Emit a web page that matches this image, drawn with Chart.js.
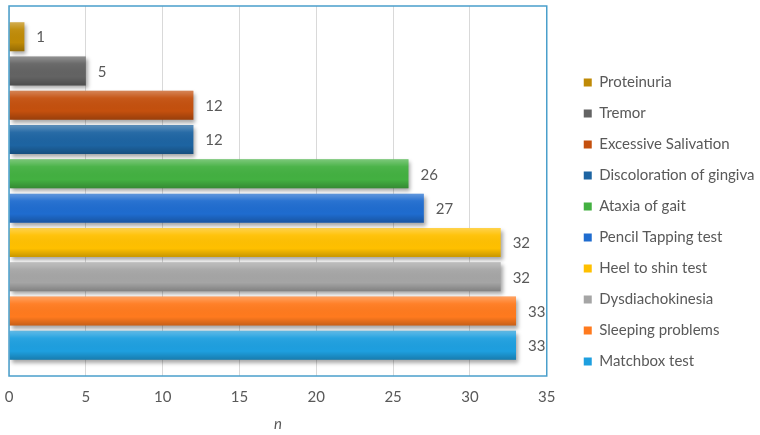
<!DOCTYPE html>
<html>
<head>
<meta charset="utf-8">
<script src="https://cdn.jsdelivr.net/npm/chart.js@4.4.1/dist/chart.umd.min.js"></script>
<style>
  html, body { margin: 0; padding: 0; background: #fff; }
  #wrap { width: 760px; height: 435px; }
</style>
</head>
<body>
<div id="wrap"><canvas id="symptomChart"></canvas></div>
<script>
const symptoms = [
  "Proteinuria", "Tremor", "Excessive Salivation", "Discoloration of gingiva",
  "Ataxia of gait", "Pencil Tapping test", "Heel to shin test",
  "Dysdiachokinesia", "Sleeping problems", "Matchbox test"
];
const counts = [1, 5, 12, 12, 26, 27, 32, 32, 33, 33];
const barColors = [
  "#BF8A06", "#636363", "#C4500E", "#1D64A2", "#43B041",
  "#1F6CCF", "#FFC000", "#A5A5A5", "#FF7A1E", "#1E9FDF"
];
const xMin = 0;
const xMax = 35;
const xStep = 5;

const textColor = "#595959";
const baseFont = "Lato, 'Open Sans', sans-serif";

// one category, one dataset per symptom (gives the Excel-like rows + legend)
const datasets = symptoms.map((name, i) => ({
  label: name,
  data: [counts[i]],
  backgroundColor: barColors[i],
  borderWidth: 0,
  categoryPercentage: 0.927,
  barPercentage: 0.845
}));

// shadow under the bars
const barShadow = {
  id: "barShadow",
  beforeDatasetsDraw(chart) {
    const ctx = chart.ctx;
    ctx.save();
    ctx.shadowColor = "rgba(0,0,0,0.35)";
    ctx.shadowBlur = 4;
    ctx.shadowOffsetX = 2;
    ctx.shadowOffsetY = 3;
  },
  afterDatasetsDraw(chart) {
    chart.ctx.restore();
  }
};

// light top / dark bottom sheen over each bar, plus value labels
const barSheen = {
  id: "barSheen",
  afterDatasetsDraw(chart) {
    const ctx = chart.ctx;
    ctx.save();
    chart.data.datasets.forEach((ds, i) => {
      const meta = chart.getDatasetMeta(i);
      meta.data.forEach((bar, j) => {
        const { x, y, base, height } = bar.getProps(["x", "y", "base", "height"], true);
        const top = y - height / 2;
        const g = ctx.createLinearGradient(0, top, 0, top + height);
        g.addColorStop(0, "rgba(255,255,255,0.30)");
        g.addColorStop(0.25, "rgba(255,255,255,0.05)");
        g.addColorStop(0.7, "rgba(0,0,0,0)");
        g.addColorStop(1, "rgba(0,0,0,0.22)");
        ctx.fillStyle = g;
        ctx.fillRect(base, top, x - base, height);

        ctx.fillStyle = textColor;
        ctx.font = "15px " + baseFont;
        ctx.textBaseline = "middle";
        ctx.textAlign = "left";
        ctx.fillText(String(ds.data[j]), x + 12, y + 1);
      });
    });
    ctx.restore();
  }
};

// blue plot-area border
const plotBorder = {
  id: "plotBorder",
  afterDraw(chart) {
    const { left, top, right, bottom } = chart.chartArea;
    const ctx = chart.ctx;
    ctx.save();
    ctx.strokeStyle = "#4A9FCB";
    ctx.lineWidth = 1.5;
    ctx.strokeRect(left, top, right - left, bottom - top);
    ctx.restore();
  }
};

const ctx = document.getElementById("symptomChart").getContext("2d");
new Chart(ctx, {
  type: "bar",
  data: { labels: [""], datasets },
  options: {
    indexAxis: "y",
    responsive: true,
    maintainAspectRatio: false,
    animation: false,
    layout: { padding: { left: 9, top: 6, right: 6, bottom: 2 } },
    scales: {
      x: {
        min: xMin,
        max: xMax,
        ticks: {
          stepSize: xStep,
          maxRotation: 0,
          autoSkip: false,
          color: textColor,
          font: { size: 15, family: baseFont },
          padding: 12
        },
        grid: { color: "#D9D9D9", drawTicks: false },
        border: { display: false },
        title: {
          display: true,
          text: "n",
          color: textColor,
          font: { size: 15, style: "italic", family: baseFont },
          padding: { top: -3, bottom: 0 }
        },
        afterFit: scale => {
          scale.paddingLeft = 0;
          scale.paddingRight = 0;
        }
      },
      y: {
        position: "right",
        ticks: { display: false },
        grid: { display: false },
        border: { display: false },
        afterFit: scale => { scale.width = 21; }
      }
    },
    plugins: {
      legend: {
        position: "right",
        title: { display: true, text: "", font: { size: 1 }, padding: { top: 4, bottom: 0 } },
        labels: {
          boxWidth: 8,
          boxHeight: 8,
          padding: 16,
          color: textColor,
          font: { size: 15, family: baseFont }
        }
      },
      tooltip: { enabled: false }
    }
  },
  plugins: [barShadow, barSheen, plotBorder]
});
</script>
</body>
</html>
